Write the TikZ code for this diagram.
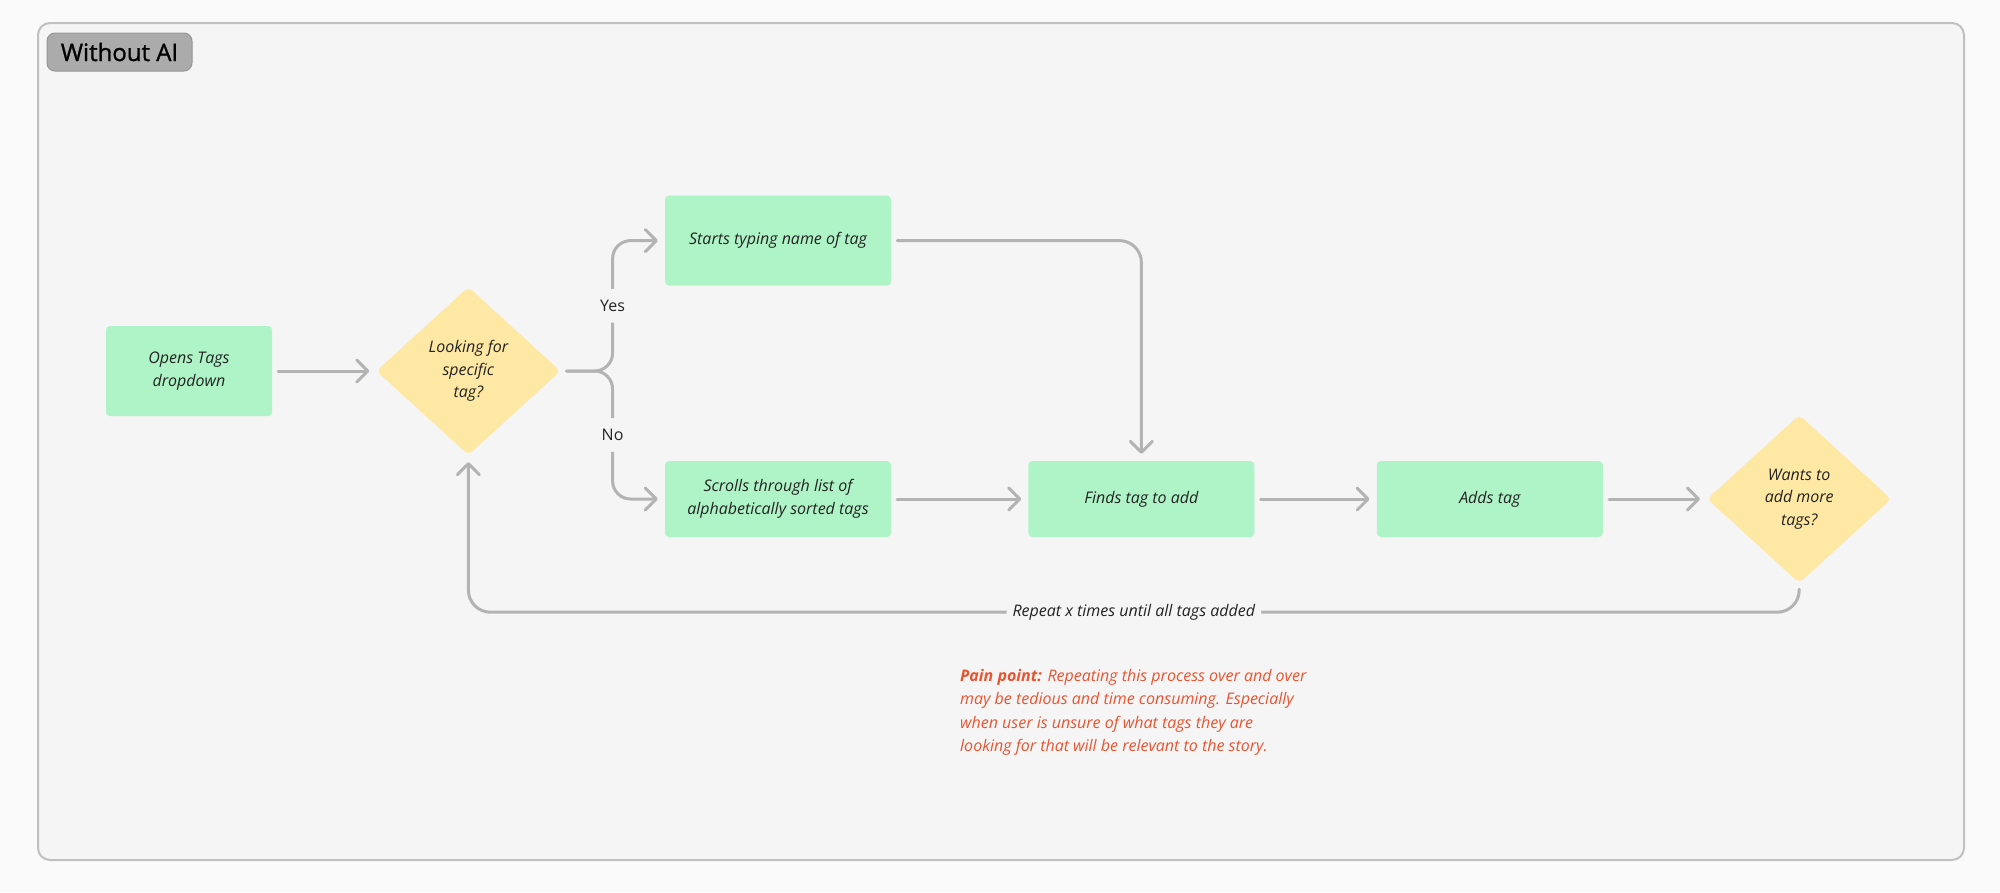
\documentclass[tikz,border=0pt]{standalone}
\usepackage{fontspec}
\setmainfont{Open Sans}
\usepackage{xcolor}
\definecolor{page-bg}{RGB}{250,250,250}
\definecolor{frame-bg}{RGB}{245,245,245}
\definecolor{frame-line}{RGB}{192,192,192}
\definecolor{step-fill}{RGB}{175,244,198}
\definecolor{choice-fill}{RGB}{255,232,163}
\definecolor{flow-line}{RGB}{179,179,179}
\definecolor{text-dark}{RGB}{35,35,35}
\definecolor{pain-red}{RGB}{233,84,48}
\definecolor{tag-fill}{RGB}{171,171,171}
\definecolor{tag-line}{RGB}{150,150,150}
\usetikzlibrary{positioning,arrows.meta,shapes.geometric}

\begin{document}
\begin{tikzpicture}[
  x=1pt, y=-1pt,
  node distance=100pt,
  stepbox/.style={
    rectangle,
    fill=step-fill,
    rounded corners=4pt,
    minimum width=226pt,
    minimum height=76pt,
    align=center,
    font=\fontsize{16}{23}\selectfont\itshape,
    text=text-dark
  },
  choice/.style={
    diamond,
    fill=choice-fill,
    rounded corners=5pt,
    minimum width=184pt,
    minimum height=168pt,
    inner sep=0pt,
    align=center,
    font=\fontsize{16}{22.5}\selectfont\itshape,
    text=text-dark
  },
  flow/.style={
    -{Straight Barb[length=11pt,width=22pt,round]},
    line width=3pt,
    draw=flow-line,
    line cap=round,
    shorten <=6pt,
    shorten >=7pt
  },
  lbl/.style={
    fill=frame-bg,
    font=\fontsize{16}{19}\selectfont,
    text=text-dark,
    inner xsep=4pt,
    inner ysep=11pt
  }
]

% Page and frame
\fill[page-bg] (0,0) rectangle (2000,892);
\useasboundingbox (0,0) rectangle (2000,892);
\draw[draw=frame-line, fill=frame-bg, line width=2pt, rounded corners=12pt] (38,23) rectangle (1964,860);
\node[fill=tag-fill, draw=tag-line, line width=1pt, rounded corners=8pt, minimum width=145pt, minimum height=38pt,
  font=\fontsize{24}{28}\selectfont\addfontfeature{FakeBold=1.2}, text=black] (title) at (119.5,52) {Without AI};

% Steps
\node[stepbox, minimum width=166pt, minimum height=90pt] (opens) at (189,371) {Opens Tags\\dropdown};
\node[choice, right=104pt of opens] (look) {Looking for\\specific\\tag?};
\node[stepbox] (scrolls) at (778,499) {Scrolls through list of\\alphabetically sorted tags};
\node[stepbox, minimum height=90pt, above=175pt of scrolls] (starts) {Starts typing name of tag};
\node[stepbox, right=137pt of scrolls] (finds) {Finds tag to add};
\node[stepbox, right=122pt of finds] (adds) {Adds tag};
\node[choice, right=104pt of adds] (wants) {Wants to\\add more\\tags?};

% Connectors
\draw[flow] (opens.east) -- (look.west);
\draw[flow, rounded corners=18pt] (look.east) -- ++(52,0) |- node[lbl, pos=0.25] {Yes} (starts.west);
\draw[flow, rounded corners=18pt] (look.east) -- ++(52,0) |- node[lbl, pos=0.25] {No} (scrolls.west);
\draw[flow, rounded corners=22pt] (starts.east) -| (finds.north);
\draw[flow] (scrolls.east) -- (finds.west);
\draw[flow] (finds.east) -- (adds.west);
\draw[flow] (adds.east) -- (wants.west);
\draw[flow, rounded corners=22pt] (wants.south) -- ++(0,29) -| node[lbl, pos=0.25, inner xsep=6pt, font=\fontsize{16}{19}\selectfont\itshape] {Repeat x times until all tags added} (look.south);

% Pain point note
\node[anchor=north west, align=left, inner sep=0pt, text=pain-red, font=\fontsize{16}{23.5}\selectfont\itshape] (pain) at (960,669)
  {\textbf{Pain point:} Repeating this process over and over\\
   may be tedious and time consuming. Especially\\
   when user is unsure of what tags they are\\
   looking for that will be relevant to the story.};

\end{tikzpicture}
\end{document}
